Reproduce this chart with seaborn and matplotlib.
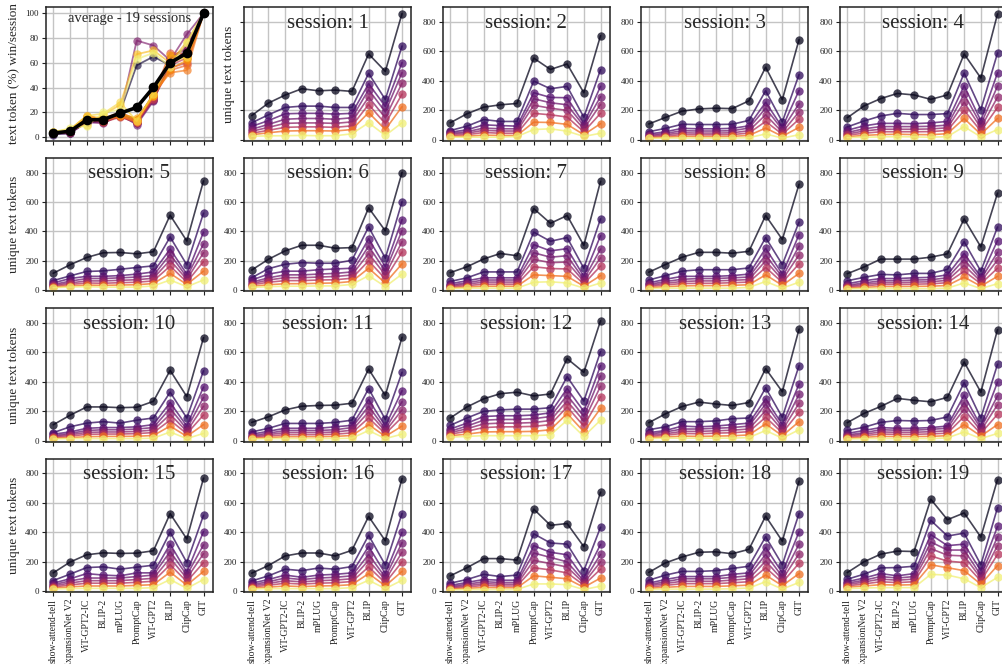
import numpy as np
import pandas as pd
import matplotlib
matplotlib.use("Agg")
import matplotlib.pyplot as plt
import seaborn as sns

models = ["show-attend-tell", "ExpansionNet V2", "ViT-GPT2-IC", "BLIP-2", "mPLUG",
          "PromptCap", "ViT-GPT2", "BLIP", "ClipCap", "GIT"]

# unique text tokens per model, one row per curve (top curve first)
session_01 = [[165, 250, 304, 347, 333, 338, 329, 583, 465, 857],
              [116, 170, 220, 229, 229, 220, 220, 451, 274, 637],
              [91, 131, 177, 180, 180, 175, 180, 381, 227, 524],
              [72, 105, 140, 145, 145, 140, 150, 340, 190, 456],
              [58, 85, 112, 115, 115, 112, 122, 290, 150, 385],
              [45, 65, 85, 88, 88, 85, 95, 240, 110, 310],
              [35, 48, 60, 62, 62, 60, 70, 185, 70, 225],
              [25, 27, 28, 30, 28, 28, 41, 116, 30, 116]]
session_02 = [[116, 177, 222, 238, 247, 555, 478, 515, 320, 707],
              [63, 93, 138, 125, 125, 399, 347, 363, 154, 476],
              [52, 68, 102, 97, 93, 320, 288, 286, 109, 363],
              [45, 55, 80, 75, 75, 279, 252, 238, 95, 293],
              [38, 45, 65, 60, 60, 235, 215, 200, 75, 240],
              [30, 35, 50, 45, 45, 180, 170, 155, 55, 180],
              [24, 25, 32, 30, 30, 120, 118, 105, 35, 110],
              [18, 18, 18, 18, 23, 70, 75, 59, 23, 45]]
session_03 = [[108, 152, 195, 210, 215, 212, 265, 493, 273, 680],
              [55, 78, 106, 104, 104, 106, 132, 333, 122, 443],
              [40, 55, 78, 75, 75, 78, 95, 255, 85, 335],
              [32, 44, 62, 60, 60, 62, 80, 215, 70, 245],
              [26, 35, 48, 46, 46, 48, 62, 170, 52, 190],
              [20, 26, 36, 34, 34, 36, 46, 125, 38, 140],
              [15, 18, 24, 22, 22, 24, 30, 80, 24, 85],
              [10, 12, 12, 12, 12, 12, 15, 40, 12, 35]]
session_04 = [[150, 230, 280, 315, 305, 275, 305, 583, 420, 855],
              [88, 128, 162, 180, 172, 172, 178, 453, 205, 590],
              [65, 95, 112, 112, 110, 115, 125, 368, 130, 455],
              [50, 75, 90, 90, 90, 92, 100, 310, 105, 365],
              [40, 60, 72, 72, 72, 74, 82, 255, 82, 290],
              [32, 45, 55, 55, 55, 56, 64, 200, 60, 220],
              [22, 30, 36, 38, 36, 35, 42, 145, 38, 145],
              [15, 18, 20, 22, 20, 18, 22, 90, 20, 70]]
session_05 = [[116, 173, 223, 255, 257, 248, 262, 510, 335, 743],
              [66, 98, 128, 132, 143, 155, 166, 362, 173, 524],
              [50, 80, 95, 95, 100, 110, 125, 280, 110, 395],
              [40, 62, 80, 80, 85, 90, 100, 245, 90, 315],
              [34, 50, 64, 64, 68, 72, 82, 205, 74, 255],
              [28, 40, 50, 48, 52, 55, 64, 165, 56, 195],
              [22, 30, 36, 34, 36, 38, 46, 115, 40, 130],
              [18, 22, 25, 22, 22, 22, 30, 70, 25, 70]]
session_06 = [[138, 211, 268, 306, 306, 286, 290, 560, 404, 800],
              [86, 147, 177, 188, 184, 184, 204, 431, 218, 601],
              [70, 110, 130, 130, 140, 145, 150, 350, 160, 480],
              [55, 85, 105, 105, 110, 115, 125, 300, 130, 405],
              [46, 70, 86, 86, 90, 94, 104, 250, 104, 330],
              [38, 55, 66, 66, 70, 72, 82, 200, 78, 260],
              [28, 38, 45, 45, 48, 50, 60, 150, 50, 180],
              [20, 25, 28, 28, 30, 30, 40, 100, 25, 110]]
session_07 = [[120, 160, 213, 250, 235, 555, 455, 508, 305, 740],
              [60, 85, 125, 125, 125, 395, 333, 358, 150, 485],
              [45, 65, 85, 85, 85, 310, 268, 283, 95, 370],
              [35, 52, 70, 70, 70, 255, 225, 235, 75, 280],
              [29, 42, 56, 56, 56, 210, 188, 192, 60, 220],
              [23, 32, 42, 42, 42, 160, 148, 145, 44, 165],
              [17, 22, 28, 28, 28, 105, 100, 95, 28, 100],
              [12, 15, 15, 15, 15, 55, 58, 50, 15, 50]]
session_08 = [[123, 175, 225, 258, 258, 252, 265, 508, 345, 720],
              [70, 100, 130, 140, 140, 140, 152, 358, 175, 463],
              [50, 75, 95, 95, 95, 100, 110, 285, 110, 378],
              [40, 60, 75, 80, 80, 85, 90, 240, 90, 300],
              [33, 48, 60, 64, 64, 68, 73, 200, 72, 240],
              [26, 37, 46, 48, 48, 52, 56, 155, 54, 180],
              [18, 25, 30, 32, 32, 34, 38, 105, 34, 115],
              [12, 15, 15, 15, 15, 15, 20, 60, 15, 55]]
session_09 = [[113, 158, 212, 212, 212, 225, 248, 485, 295, 660],
              [65, 88, 108, 105, 115, 115, 142, 330, 130, 430],
              [45, 65, 80, 80, 85, 88, 105, 250, 90, 338],
              [35, 50, 65, 65, 70, 72, 85, 210, 75, 258],
              [28, 40, 52, 52, 56, 58, 68, 170, 60, 205],
              [22, 30, 40, 40, 42, 44, 52, 130, 45, 150],
              [15, 20, 26, 26, 27, 28, 33, 90, 28, 95],
              [10, 12, 12, 12, 12, 12, 15, 50, 12, 45]]
session_10 = [[109, 173, 230, 230, 225, 228, 268, 478, 300, 700],
              [55, 95, 120, 130, 120, 140, 155, 330, 155, 475],
              [45, 60, 85, 90, 90, 95, 110, 260, 100, 365],
              [35, 50, 70, 75, 75, 80, 90, 220, 80, 295],
              [29, 41, 57, 60, 60, 64, 73, 180, 64, 235],
              [23, 32, 44, 46, 46, 49, 56, 140, 48, 175],
              [17, 22, 28, 30, 30, 31, 36, 100, 30, 110],
              [12, 15, 15, 15, 15, 15, 18, 60, 15, 50]]
session_11 = [[125, 163, 210, 235, 240, 242, 255, 487, 308, 703],
              [60, 85, 118, 118, 118, 125, 140, 355, 145, 465],
              [45, 65, 85, 85, 85, 95, 105, 280, 100, 340],
              [35, 52, 70, 70, 70, 75, 90, 235, 80, 265],
              [29, 42, 56, 56, 56, 60, 72, 195, 64, 210],
              [23, 32, 42, 42, 42, 45, 54, 155, 48, 160],
              [17, 22, 28, 28, 28, 30, 36, 110, 30, 100],
              [12, 15, 15, 15, 15, 15, 18, 70, 15, 45]]
session_12 = [[155, 230, 285, 320, 330, 305, 318, 558, 465, 815],
              [105, 155, 200, 210, 215, 215, 225, 435, 270, 605],
              [80, 120, 165, 170, 170, 175, 190, 355, 200, 510],
              [65, 100, 140, 145, 145, 150, 165, 310, 165, 440],
              [55, 82, 115, 120, 120, 124, 138, 270, 135, 370],
              [45, 65, 90, 95, 95, 98, 110, 230, 100, 300],
              [35, 45, 60, 62, 62, 64, 75, 185, 62, 220],
              [25, 30, 35, 35, 35, 35, 40, 140, 30, 140]]
session_13 = [[123, 183, 233, 263, 250, 240, 260, 490, 333, 758],
              [75, 95, 130, 130, 135, 150, 155, 360, 160, 510],
              [55, 70, 100, 95, 100, 110, 120, 285, 110, 385],
              [45, 60, 80, 80, 85, 90, 100, 250, 90, 315],
              [37, 48, 64, 64, 68, 72, 80, 205, 72, 255],
              [29, 38, 50, 48, 52, 55, 62, 160, 54, 195],
              [22, 26, 32, 30, 32, 34, 40, 115, 34, 130],
              [15, 18, 18, 18, 18, 18, 22, 70, 18, 75]]
session_14 = [[123, 186, 233, 288, 275, 265, 295, 535, 330, 755],
              [70, 92, 125, 138, 135, 138, 162, 395, 155, 520],
              [50, 70, 90, 85, 85, 90, 100, 310, 100, 398],
              [40, 55, 75, 72, 72, 78, 85, 260, 85, 305],
              [33, 45, 60, 58, 58, 62, 68, 215, 68, 245],
              [26, 35, 46, 44, 44, 47, 52, 165, 50, 180],
              [18, 24, 30, 29, 29, 30, 35, 110, 32, 110],
              [12, 15, 15, 15, 15, 15, 20, 60, 15, 50]]
session_15 = [[125, 198, 248, 261, 257, 259, 275, 527, 355, 768],
              [73, 116, 161, 166, 150, 164, 177, 402, 195, 516],
              [55, 85, 120, 110, 105, 125, 125, 320, 130, 405],
              [45, 70, 90, 90, 90, 100, 110, 270, 110, 315],
              [37, 56, 72, 72, 72, 80, 88, 225, 88, 255],
              [29, 43, 55, 55, 55, 61, 68, 180, 66, 195],
              [22, 30, 36, 36, 36, 40, 45, 130, 42, 135],
              [15, 18, 20, 20, 20, 20, 25, 80, 20, 80]]
session_16 = [[123, 175, 240, 260, 260, 240, 278, 508, 343, 765],
              [70, 105, 150, 140, 158, 150, 168, 380, 178, 528],
              [55, 80, 110, 95, 110, 115, 125, 305, 120, 400],
              [45, 65, 90, 80, 90, 95, 105, 250, 95, 330],
              [37, 53, 72, 64, 72, 76, 85, 210, 76, 265],
              [29, 41, 55, 49, 55, 58, 66, 165, 57, 200],
              [22, 28, 36, 32, 36, 38, 45, 120, 37, 135],
              [15, 18, 18, 18, 18, 18, 25, 75, 18, 75]]
session_17 = [[105, 160, 222, 222, 212, 558, 448, 460, 303, 673],
              [55, 80, 115, 100, 110, 390, 328, 320, 140, 435],
              [40, 60, 80, 75, 75, 310, 265, 248, 90, 318],
              [32, 48, 65, 60, 60, 260, 230, 200, 70, 250],
              [26, 38, 52, 48, 48, 210, 188, 165, 56, 200],
              [20, 29, 40, 36, 36, 160, 145, 125, 42, 150],
              [15, 20, 26, 24, 24, 105, 95, 85, 27, 90],
              [10, 12, 12, 12, 12, 50, 50, 45, 12, 35]]
session_18 = [[128, 193, 233, 265, 268, 255, 285, 510, 340, 748],
              [75, 110, 135, 135, 140, 155, 170, 370, 180, 528],
              [55, 80, 100, 100, 100, 115, 125, 298, 125, 403],
              [45, 65, 85, 85, 85, 95, 105, 250, 100, 320],
              [37, 53, 68, 68, 68, 76, 85, 205, 80, 255],
              [28, 40, 52, 52, 52, 58, 65, 160, 60, 190],
              [20, 27, 33, 33, 33, 37, 42, 110, 38, 120],
              [12, 15, 15, 15, 15, 18, 22, 65, 15, 60]]
session_19 = [[127, 200, 252, 273, 270, 625, 486, 532, 368, 759],
              [82, 116, 159, 161, 170, 482, 375, 395, 180, 568],
              [65, 90, 120, 105, 120, 385, 310, 320, 140, 440],
              [55, 75, 100, 90, 100, 335, 280, 280, 110, 370],
              [46, 63, 83, 75, 83, 290, 245, 240, 90, 310],
              [37, 50, 65, 59, 65, 240, 205, 195, 70, 250],
              [28, 36, 45, 42, 45, 180, 160, 140, 48, 175],
              [18, 22, 25, 25, 25, 115, 110, 85, 25, 95]]

sessions = [session_01, session_02, session_03, session_04, session_05,
            session_06, session_07, session_08, session_09, session_10,
            session_11, session_12, session_13, session_14, session_15,
            session_16, session_17, session_18, session_19]

# text token win share (%) per session
win_pct = [[3, 3, 13, 13, 19, 14, 33, 62, 66, 100],
           [3, 4, 12, 13, 20, 58, 65, 58, 70, 100],
           [2, 3, 12, 12, 17, 12, 30, 60, 70, 100],
           [3, 4, 14, 14, 20, 12, 32, 62, 68, 100],
           [3, 4, 13, 13, 18, 11, 31, 64, 72, 100],
           [3, 5, 15, 13, 18, 10, 29, 62, 74, 100],
           [3, 3, 12, 11, 18, 78, 74, 62, 83, 100],
           [3, 4, 13, 12, 17, 11, 30, 63, 72, 100],
           [3, 4, 12, 14, 18, 12, 32, 60, 67, 100],
           [3, 5, 14, 13, 17, 13, 33, 58, 64, 100],
           [3, 4, 15, 12, 16, 12, 31, 56, 60, 100],
           [3, 5, 16, 15, 20, 14, 34, 68, 67, 100],
           [3, 5, 17, 14, 17, 12, 33, 54, 58, 100],
           [3, 5, 16, 13, 17, 13, 35, 52, 54, 100],
           [3, 5, 15, 14, 18, 14, 34, 55, 62, 100],
           [4, 6, 17, 15, 19, 15, 33, 66, 64, 100],
           [4, 6, 10, 18, 26, 67, 70, 60, 77, 100],
           [4, 6, 17, 19, 28, 13, 35, 60, 65, 100],
           [4, 7, 9, 20, 22, 63, 68, 57, 76, 100]]

sns.set_style("ticks")
plt.rcParams['font.family'] = ['Liberation Serif', 'DejaVu Serif']
plt.rcParams['axes.edgecolor'] = '#222222'
plt.rcParams['axes.linewidth'] = 1.1
plt.rcParams['xtick.color'] = '#222222'
plt.rcParams['ytick.color'] = '#222222'

fig, axes = plt.subplots(4, 5, figsize=(10.03, 6.64), dpi=100, sharex=True)
fig.subplots_adjust(left=0.0456, right=1.0037, bottom=0.1084, top=0.989,
                    wspace=0.189, hspace=0.129)

x = np.arange(len(models))
# colour stops along inferno: dark top curve, purple band, orange/yellow at the bottom
line_cols = [plt.cm.inferno(v) for v in [0.05, 0.16, 0.24, 0.31, 0.38, 0.48, 0.68, 0.95]]


def style_ax(ax):
    ax.grid(True, color='#c4c4c4', linewidth=1.0)
    ax.set_axisbelow(True)
    ax.tick_params(axis='both', length=3, width=0.8, labelsize=6.5, pad=2)
    ax.tick_params(axis='x', labelsize=7, labelrotation=90)
    ax.set_xlabel('')
    ax.set_ylabel('')


# average panel
ax = axes[0, 0]
avg_df = pd.DataFrame([{'session': s + 1, 'model': i, 'pct': v}
                       for s, row in enumerate(win_pct) for i, v in enumerate(row)])
sns.lineplot(data=avg_df, x='model', y='pct', hue='session',
             palette=sns.color_palette('inferno', len(win_pct)), marker='o',
             markersize=6, markeredgewidth=0, alpha=0.65, linewidth=1.3,
             errorbar=None, legend=False, ax=ax)
mean_df = avg_df.groupby('model', as_index=False)['pct'].mean()
sns.lineplot(data=mean_df, x='model', y='pct', color='black', marker='o',
             markersize=7, markeredgewidth=0, linewidth=2.6, errorbar=None, ax=ax)
style_ax(ax)
ax.set_yticks([0, 20, 40, 60, 80, 100])
ax.set_ylabel('text token (%) win/session', fontsize=9.5)
ax.text(0.5, 0.915, 'average - 19 sessions', transform=ax.transAxes,
        ha='center', va='center', fontsize=10.5)

# session panels
for k, data in enumerate(sessions):
    ax = axes.flat[k + 1]
    df = pd.DataFrame([{'rank': r, 'model': i, 'tokens': v}
                       for r, row in enumerate(data) for i, v in enumerate(row)])
    sns.lineplot(data=df, x='model', y='tokens', hue='rank', palette=line_cols,
                 marker='o', markersize=6, markeredgewidth=0, alpha=0.75,
                 linewidth=1.2, errorbar=None, legend=False, ax=ax)
    style_ax(ax)
    ax.set_ylim(-5, 900)
    ax.set_yticks([0, 200, 400, 600, 800])
    ax.text(0.5, 0.88, f'session: {k + 1}', transform=ax.transAxes,
            ha='center', va='center', fontsize=15)
    if k == 0:
        ax.tick_params(axis='y', labelleft=False)
        ax.set_ylabel('unique text tokens', fontsize=9.5)
    if (k + 1) % 5 == 0:
        ax.set_ylabel('unique text tokens', fontsize=9.5)

for ax in axes.flat:
    ax.set_xticks(x)
    ax.set_xlim(-0.45, 9.55)
for ax in axes[-1]:
    ax.set_xticklabels(models)

fig.savefig('out.png', dpi=100)
